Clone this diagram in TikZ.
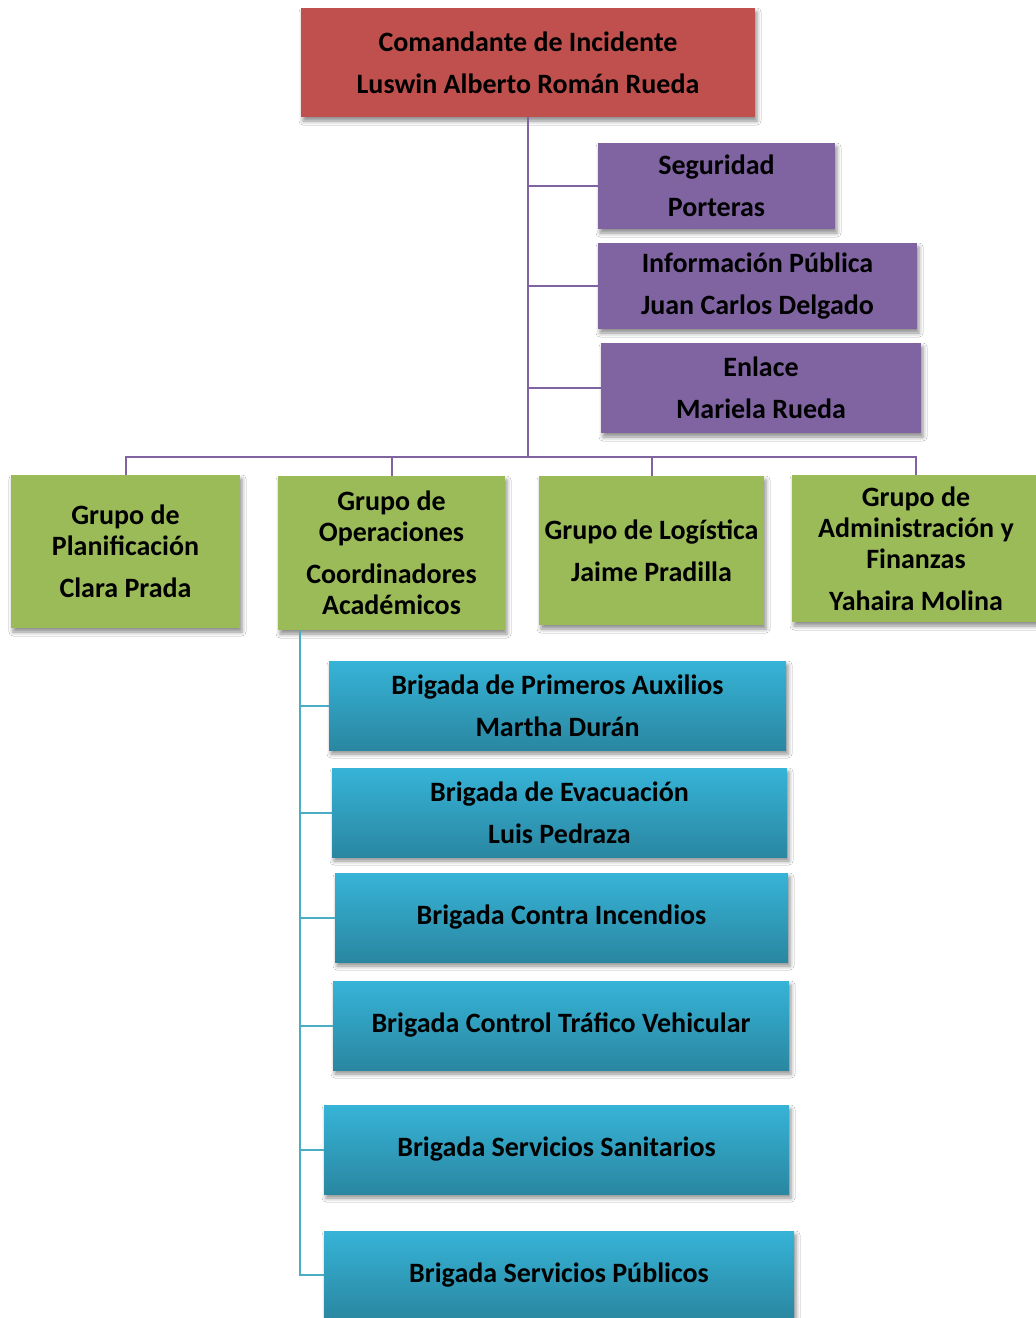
\documentclass[tikz,border=0pt]{standalone}
\usepackage{fontspec}
\setmainfont{Carlito}
\usetikzlibrary{shadows.blur}

\definecolor{cmdred}{HTML}{C0504D}
\definecolor{staffpurple}{HTML}{8064A2}
\definecolor{groupgreen}{HTML}{9BBB59}
\definecolor{brigtop}{HTML}{36B3D7}
\definecolor{brigmid}{HTML}{31A6C8}
\definecolor{brigbot}{HTML}{2A87A1}
\definecolor{brigline}{HTML}{4BACC6}

\tikzset{
  unit/.style={inner sep=0pt, align=center,
    font=\fontsize{28}{31}\selectfont\bfseries,
    blur shadow={shadow xshift=2pt, shadow yshift=-4pt,
                 shadow blur radius=4pt, shadow opacity=45}},
  sz/.style 2 args={minimum width=#1, minimum height=#2},
  commandbox/.style={unit, fill=cmdred},
  staffbox/.style={unit, fill=staffpurple},
  groupbox/.style={unit, fill=groupgreen},
  brigbox/.style={unit, top color=brigtop, middle color=brigmid, bottom color=brigbot},
  staffline/.style={draw=staffpurple, line width=2pt},
  brigwire/.style={draw=brigline, line width=2pt},
}

\begin{document}
\begin{tikzpicture}[x=1pt, y=-1pt]
\useasboundingbox (0,0) rectangle (1036,1318);
\fill[white] (0,0) rectangle (1036,1318);

% command
\node[commandbox, sz={454pt}{109pt}] (cmd) at (528,62.5)
  {Comandante de Incidente\\[11pt]Luswin Alberto Román Rueda};

% command staff
\node[staffbox, sz={237pt}{86pt}] (seg) at (716.5,186)
  {Seguridad\\[11pt]Porteras};
\node[staffbox, sz={319pt}{86pt}] (info) at (757.5,286)
  {Información Pública\\[11pt]Juan Carlos Delgado};
\node[staffbox, sz={320pt}{90pt}] (enl) at (761,388)
  {Enlace\\[11pt]Mariela Rueda};

% general staff
\node[groupbox, sz={229pt}{153pt}] (plan) at (125.5,551.5)
  {Grupo de\\Planificación\\[11pt]Clara Prada};
\node[groupbox, sz={227pt}{154pt}] (oper) at (391.5,553)
  {Grupo de\\Operaciones\\[11pt]Coordinadores\\Académicos};
\node[groupbox, sz={225pt}{149pt}] (log) at (651.5,550.5)
  {Grupo de Logística\\[11pt]Jaime Pradilla};
\node[groupbox, sz={248pt}{147pt}] (adm) at (916,548.5)
  {Grupo de\\Administración y\\Finanzas\\[11pt]Yahaira Molina};

% brigades
\node[brigbox, sz={457pt}{89pt}] (b1) at (557.5,705.5)
  {Brigada de Primeros Auxilios\\[11pt]Martha Durán};
\node[brigbox, sz={455pt}{89pt}] (b2) at (559.5,812.5)
  {Brigada de Evacuación\\[11pt]Luis Pedraza};
\node[brigbox, sz={453pt}{89pt}] (b3) at (561.5,917.5)
  {Brigada Contra Incendios};
\node[brigbox, sz={456pt}{89pt}] (b4) at (561,1025.5)
  {Brigada Control Tráfico Vehicular};
\node[brigbox, sz={465pt}{89pt}] (b5) at (556.5,1149.5)
  {Brigada Servicios Sanitarios};
\node[brigbox, sz={470pt}{88pt}] (b6) at (559,1275)
  {Brigada Servicios Públicos};

% staff connectors
\coordinate (bus) at (cmd.south |- 0,457);
\draw[staffline] (cmd.south) -- (bus);
\draw[staffline] (cmd.south |- seg.west) -- (seg.west);
\draw[staffline] (cmd.south |- info.west) -- (info.west);
\draw[staffline] (cmd.south |- enl.west) -- (enl.west);
\draw[staffline] (plan.north) |- (bus) -| (adm.north);
\draw[staffline] (oper.north) -- (oper.north |- bus);
\draw[staffline] (log.north) -- (log.north |- bus);

% operations connectors
\coordinate (ops) at ([xshift=22pt]oper.south west);
\draw[brigwire] (ops) |- (b6.west);
\foreach \b in {b1,b2,b3,b4,b5}
  \draw[brigwire] (ops |- \b.west) -- (\b.west);
\end{tikzpicture}
\end{document}
